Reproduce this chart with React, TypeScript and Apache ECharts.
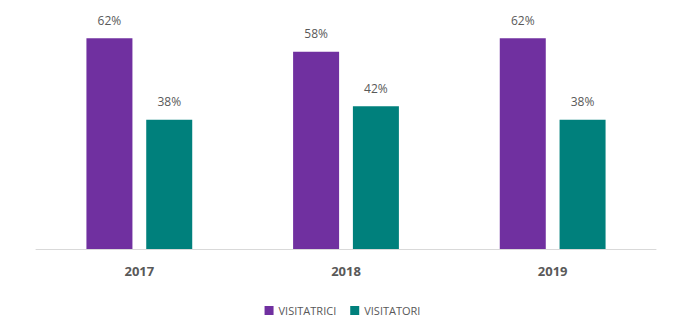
import React, { useEffect, useRef } from "react";
import * as echarts from "echarts";

const categories = ["2017", "2018", "2019"];
const visitatrici = [62, 58, 62];
const visitatori = [38, 42, 38];

export default function App() {
  const ref = useRef<HTMLDivElement>(null);
  useEffect(() => {
    if (!ref.current) return;
    const chart = echarts.init(ref.current, null, { renderer: "svg" });
    const label = {
      show: true,
      position: "top" as const,
      distance: 12,
      formatter: "{c}%",
      color: "#595959",
      fontSize: 12,
      fontFamily: "Open Sans",
    };
    chart.setOption({
      animation: false,
      textStyle: { fontFamily: "Open Sans" },
      grid: { left: 36, right: 29, top: 11, bottom: 72 },
      legend: {
        bottom: 0,
        left: "center",
        itemWidth: 9,
        itemHeight: 9,
        itemGap: 14,
        icon: "rect",
        textStyle: { color: "#595959", fontSize: 11, fontFamily: "Open Sans" },
        data: ["VISITATRICI", "VISITATORI"],
      },
      xAxis: {
        type: "category",
        data: categories,
        axisTick: { show: false },
        axisLine: { lineStyle: { color: "#d9d9d9" } },
        axisLabel: {
          color: "#595959",
          fontSize: 13,
          fontWeight: "bold",
          margin: 15,
          fontFamily: "Open Sans",
        },
      },
      yAxis: {
        type: "value",
        min: 0,
        max: 70,
        show: false,
        splitLine: { show: false },
      },
      series: [
        {
          name: "VISITATRICI",
          type: "bar",
          data: visitatrici,
          barWidth: 46,
          barGap: "30%",
          itemStyle: { color: "#7030a0" },
          label,
        },
        {
          name: "VISITATORI",
          type: "bar",
          data: visitatori,
          barWidth: 46,
          itemStyle: { color: "#00807c" },
          label,
        },
      ],
    });
    return () => chart.dispose();
  }, []);
  return <div ref={ref} style={{ width: 685, height: 321, position: "absolute", left: 0, top: 0 }} />;
}
